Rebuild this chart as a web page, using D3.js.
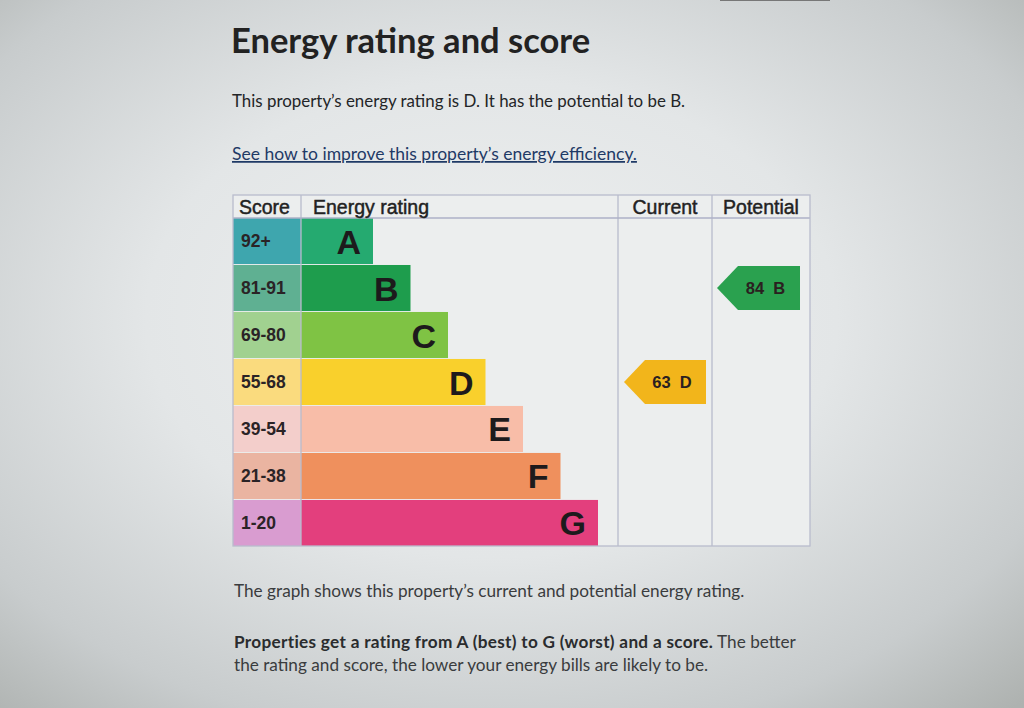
<!DOCTYPE html>
<html><head><meta charset="utf-8">
<script src="https://cdn.jsdelivr.net/npm/d3@7"></script>
<style>html,body{margin:0;padding:0;background:#d8dbdc;}svg{display:block;}</style>
</head><body>
<script>
// ---- data ----
const bands = ["A","B","C","D","E","F","G"];
const scoreRanges = ["92+","81-91","69-80","55-68","39-54","21-38","1-20"];
const barColors = ["#25aa70","#1e9d4d","#7fc344","#f9d02c","#f8bda8","#ef905d","#e33f7d"];
const scoreColors = ["#3ea6ae","#5fb092","#a1d190","#fadb7e","#f3cecb","#eab4a1","#d99cd0"];
const columns = ["Score","Energy rating","Current","Potential"];
const currentScore = 63, currentBand = "D";
const potentialScore = 84, potentialBand = "B";
const arrowColors = {current:"#f2b51b", potential:"#2aa14f"};

(function(){
const W = 1024, H = 708;
const svg = d3.select("body").append("svg").attr("width", W).attr("height", H);
const defs = svg.append("defs");
const rg = defs.append("radialGradient").attr("id","bg").attr("cx","48%").attr("cy","45%").attr("r","75%");
rg.append("stop").attr("offset","0%").attr("stop-color","#eef0f0");
rg.append("stop").attr("offset","45%").attr("stop-color","#e3e6e7");
rg.append("stop").attr("offset","80%").attr("stop-color","#c8cccd");
rg.append("stop").attr("offset","100%").attr("stop-color","#aeb2b0");
svg.append("rect").attr("width",W).attr("height",H).attr("fill","url(#bg)");
svg.append("line").attr("x1",720).attr("x2",830).attr("y1",0.5).attr("y2",0.5).attr("stroke","#777").attr("stroke-width",1);

const textCol = "#232527";
const bodyFont = "Lato, 'Open Sans', sans-serif";

svg.append("text").attr("x",231).attr("y",53).attr("font-family",bodyFont).attr("font-weight",700)
  .attr("font-size",34.5).attr("fill","#222").text("Energy rating and score");
svg.append("text").attr("x",232).attr("y",107).attr("font-family",bodyFont).attr("font-size",16.9)
  .attr("fill",textCol).text("This property\u2019s energy rating is D. It has the potential to be B.");
svg.append("text").attr("x",232).attr("y",160).attr("font-family",bodyFont).attr("font-size",17.5)
  .attr("fill","#1f3a66").attr("text-decoration","underline").text("See how to improve this property\u2019s energy efficiency.");

// ---- table ----
const colEdges = [233, 301, 618, 712, 810];
const tTop = 195, headBottom = 218, tBottom = 546;
const y = d3.scaleBand().domain(bands).range([headBottom, tBottom]).paddingInner(0.02);
const barEnd = d3.scaleLinear().domain([0, bands.length - 1]).range([373, 598]);
const tableFont = "'Liberation Sans', Arial, sans-serif";

const g = svg.append("g");
g.append("rect").attr("x",colEdges[0]).attr("y",tTop).attr("width",colEdges[4]-colEdges[0]).attr("height",tBottom-tTop)
  .attr("fill","#eceeee");

g.selectAll("rect.score").data(bands).join("rect").attr("class","score")
  .attr("x",colEdges[0]).attr("y",d=>y(d)).attr("width",colEdges[1]-colEdges[0]).attr("height",y.bandwidth())
  .attr("fill",(d,i)=>scoreColors[i]);
g.selectAll("rect.bar").data(bands).join("rect").attr("class","bar")
  .attr("x",colEdges[1]).attr("y",d=>y(d)).attr("width",(d,i)=>barEnd(i)-colEdges[1]).attr("height",y.bandwidth())
  .attr("fill",(d,i)=>barColors[i]);
g.selectAll("text.range").data(scoreRanges).join("text").attr("class","range")
  .attr("x",colEdges[0]+8).attr("y",(d,i)=>y(bands[i])+y.bandwidth()/2+6)
  .attr("font-family",tableFont).attr("font-weight",700).attr("font-size",17.5)
  .attr("fill","#2a2326").text(d=>d);
g.selectAll("text.letter").data(bands).join("text").attr("class","letter")
  .attr("x",(d,i)=>barEnd(i)-12).attr("y",d=>y(d)+y.bandwidth()/2+12.5).attr("text-anchor","end")
  .attr("font-family",tableFont).attr("font-weight",700).attr("font-size",34)
  .attr("fill","#1d1a1c").text(d=>d);

const lineCol = "#b9bccd";
[1,2,3].forEach(i=>{
  g.append("line").attr("x1",colEdges[i]).attr("x2",colEdges[i]).attr("y1",tTop).attr("y2",tBottom)
   .attr("stroke",lineCol).attr("stroke-width",1.3);
});
g.append("line").attr("x1",colEdges[0]).attr("x2",colEdges[4]).attr("y1",headBottom).attr("y2",headBottom)
  .attr("stroke","#aeb1c7").attr("stroke-width",1.5);
g.append("rect").attr("x",colEdges[0]).attr("y",tTop).attr("width",colEdges[4]-colEdges[0]).attr("height",tBottom-tTop)
  .attr("fill","none").attr("stroke",lineCol).attr("stroke-width",1.3);

const headX = [colEdges[0]+6, colEdges[1]+12, (colEdges[2]+colEdges[3])/2, (colEdges[3]+colEdges[4])/2];
g.selectAll("text.head").data(columns).join("text").attr("class","head")
  .attr("x",(d,i)=>headX[i]).attr("y",214).attr("text-anchor",(d,i)=>i<2?"start":"middle")
  .attr("font-family",tableFont).attr("font-size",19.5)
  .attr("fill","#222").attr("stroke","#222").attr("stroke-width",0.45).text(d=>d);

function arrow(x0, x1, band, color, label){
  const yt = y(band)+1, h = y.bandwidth()-2, tipW = 21;
  const pts = [[x0, yt+h/2],[x0+tipW, yt],[x1, yt],[x1, yt+h],[x0+tipW, yt+h]];
  g.append("path").attr("d", d3.line()(pts)+"Z").attr("fill", color);
  g.append("text").attr("x",(x0+tipW+x1)/2-3.5).attr("y",yt+h/2+6).attr("text-anchor","middle")
   .attr("font-family",tableFont).attr("font-weight",700).attr("font-size",16.5)
   .attr("fill","#2a2020").attr("xml:space","preserve").text(label);
}
arrow(colEdges[2]+6, colEdges[3]-6, currentBand, arrowColors.current, currentScore+"  "+currentBand);
arrow(colEdges[3]+5, colEdges[4]-10, potentialBand, arrowColors.potential, potentialScore+"  "+potentialBand);

svg.append("text").attr("x",234).attr("y",597).attr("font-family",bodyFont).attr("font-size",17.2)
  .attr("fill","#3a3c3e").text("The graph shows this property\u2019s current and potential energy rating.");
const p = svg.append("text").attr("x",234).attr("y",648).attr("font-family",bodyFont).attr("font-size",17.2).attr("fill","#3a3c3e");
p.append("tspan").attr("font-weight",700).attr("fill","#2a2c2e").attr("letter-spacing",0.3).text("Properties get a rating from A (best) to G (worst) and a score.");
p.append("tspan").text(" The better");
svg.append("text").attr("x",234).attr("y",671).attr("font-family",bodyFont).attr("font-size",17.2)
  .attr("fill","#3a3c3e").text("the rating and score, the lower your energy bills are likely to be.");
})();
</script>
</body></html>
